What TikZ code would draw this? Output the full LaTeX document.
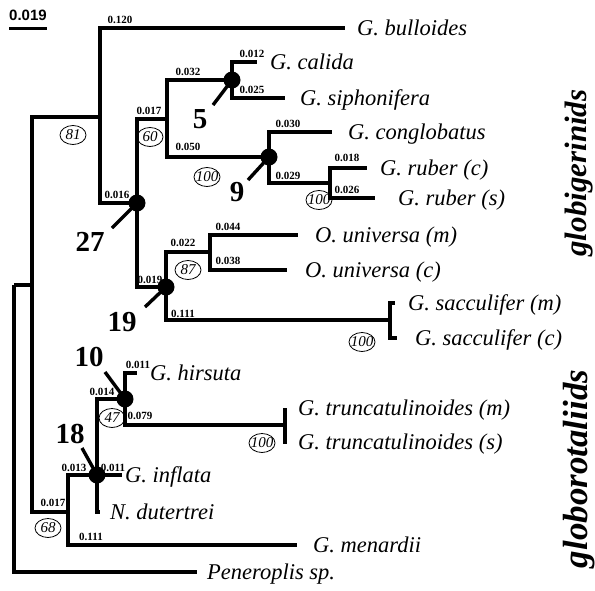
\documentclass[tikz,border=0pt]{standalone}
\usepackage{fontspec}
\setmainfont{Liberation Serif}
\setsansfont{Liberation Sans}
\usepackage{tikz}
\usetikzlibrary{positioning,shapes.geometric}

\tikzset{
  branch/.style={line width=3.4pt, line join=miter},
  leaf/.style={font=\fontsize{22.5}{22.5}\selectfont\itshape, anchor=west, inner sep=0pt, text height=14pt, text depth=0pt},
  blen/.style={font=\fontsize{11}{11}\selectfont\bfseries, inner sep=0pt},
  boot/.style={ellipse, draw, line width=0.8pt, inner sep=-3pt, minimum width=26pt, minimum height=19pt, font=\fontsize{15}{15}\selectfont\itshape},
  cladeno/.style={font=\fontsize{29}{29}\selectfont\bfseries, inner sep=0pt},
  nodedot/.style={circle, fill, inner sep=0pt, minimum size=17pt},
  cladename/.style={rotate=90, font=\fontsize{31}{31}\selectfont\bfseries\itshape, inner sep=0pt},
}

\begin{document}
\begin{tikzpicture}[x=1pt, y=-1pt]
    \useasboundingbox (0,0) rectangle (595,590);

    % Scale bar
    \node[font=\fontsize{15}{15}\selectfont\sffamily\bfseries, inner sep=0pt] (scale) at (28,15) {0.019};
    \coordinate (sbL) at (9,28);
    \coordinate (sbR) at (47,28);
    \draw[line width=3pt] (sbL) -- (sbR);

    % Internal nodes
    \coordinate (root) at (14,285);
    \coordinate (ingr) at (32,285);
    \coordinate (n81) at (100,117);
    \coordinate (n27) at (137,203);
    \coordinate (n60) at (167,119);
    \coordinate (n5) at (232,80);
    \coordinate (n9) at (269,157);
    \coordinate (nrub) at (330,183);
    \coordinate (n19) at (166,287);
    \coordinate (nuni) at (210,252);
    \coordinate (nsac) at (390,320);
    \coordinate (n68) at (68,512);
    \coordinate (n18) at (97,475);
    \coordinate (n10) at (125,399);
    \coordinate (ntru) at (285,425);

    % Tips
    \coordinate (bull) at (345,28);
    \coordinate (cali) at (257,62);
    \coordinate (siph) at (285,98);
    \coordinate (cong) at (332,132);
    \coordinate (rubc) at (367,168);
    \coordinate (rubs) at (375,198);
    \coordinate (unim) at (298,235);
    \coordinate (unic) at (287,270);
    \coordinate (sacm) at (395,303);
    \coordinate (sacc) at (397,338);
    \coordinate (hirs) at (137,373);
    \coordinate (trum) at (285,408);
    \coordinate (trus) at (287,442);
    \coordinate (infl) at (122,475);
    \coordinate (dute) at (100,512);
    \coordinate (mena) at (297,545);
    \coordinate (pene) at (197,572);

    % Branch lengths (drawn below the dots)
    \node[blen] (l120) at (120,20) {0.120};
    \node[blen] (l032) at (188,72) {0.032};
    \node[blen] (l012a) at (252,54) {0.012};
    \node[blen] (l025) at (252,90) {0.025};
    \node[blen] (l017a) at (149,111) {0.017};
    \node[blen] (l050) at (188,147) {0.050};
    \node[blen] (l016) at (117,195) {0.016};
    \node[blen] (l030) at (288,124) {0.030};
    \node[blen] (l029) at (288,176) {0.029};
    \node[blen] (l018) at (347,158) {0.018};
    \node[blen] (l026) at (347,190) {0.026};
    \node[blen] (l022) at (183,243) {0.022};
    \node[blen] (l044) at (228,227) {0.044};
    \node[blen] (l038) at (228,261) {0.038};
    \node[blen] (l019) at (150,280) {0.019};
    \node[blen] (l111a) at (183,314) {0.111};
    \node[blen] (l014) at (102,392) {0.014};
    \node[blen] (l011a) at (138,365) {0.011};
    \node[blen] (l079) at (140,416) {0.079};
    \node[blen] (l013) at (74,468) {0.013};
    \node[blen] (l011b) at (113,468) {0.011};
    \node[blen] (l017b) at (53,503) {0.017};
    \node[blen] (l111b) at (91,537) {0.111};

    % Tree
    \draw[branch] (root) |- (ingr) (root) |- (pene);
    \draw[branch] (ingr) |- (n81) (ingr) |- (n68);
    \draw[branch] (n81) |- (bull) (n81) |- (n27);
    \draw[branch] (n27) |- (n60) (n27) |- (n19);
    \draw[branch] (n60) |- (n5) (n60) |- (n9);
    \draw[branch] (n5) |- (cali) (n5) |- (siph);
    \draw[branch] (n9) |- (cong) (n9) |- (nrub);
    \draw[branch] (nrub) |- (rubc) (nrub) |- (rubs);
    \draw[branch] (n19) |- (nuni) (n19) |- (nsac);
    \draw[branch] (nuni) |- (unim) (nuni) |- (unic);
    \draw[branch] (nsac) |- (sacm) (nsac) |- (sacc);
    \draw[branch] (n68) |- (n18) (n68) |- (mena);
    \draw[branch] (n18) |- (n10) (n18) |- (infl) (n18) |- (dute);
    \draw[branch] (n10) |- (hirs) (n10) |- (ntru);
    \draw[branch] (ntru) |- (trum) (ntru) |- (trus);

    % Marked nodes and their numbers
    \node[nodedot] (d5) at (n5) {};
    \node[nodedot] (d9) at (n9) {};
    \node[nodedot] (d27) at (n27) {};
    \node[nodedot] (d19) at (n19) {};
    \node[nodedot] (d10) at (n10) {};
    \node[nodedot] (d18) at (n18) {};
    \node[cladeno] (c5) at (200,119) {5};
    \node[cladeno] (c9) at (237,192) {9};
    \node[cladeno] (c27) at (90,242) {27};
    \node[cladeno] (c19) at (122,322) {19};
    \node[cladeno] (c10) at (89,357) {10};
    \node[cladeno] (c18) at (70,434) {18};
    \coordinate (p5) at (213,105);
    \coordinate (p9) at (248,180);
    \coordinate (p27) at (112,228);
    \coordinate (p19) at (145,307);
    \coordinate (p10) at (105,372);
    \coordinate (p18) at (82,448);
    \draw[branch] (p5) -- (d5.center) (p9) -- (d9.center) (p27) -- (d27.center)
        (p19) -- (d19.center) (p10) -- (d10.center) (p18) -- (d18.center);

    % Bootstrap values
    \node[boot] (b81) at (73,135) {81};
    \node[boot] (b60) at (150,137) {60};
    \node[boot] (b100a) at (207,177) {100};
    \node[boot] (b100b) at (319,200) {100};
    \node[boot] (b87) at (188,270) {87};
    \node[boot] (b100c) at (362,342) {100};
    \node[boot] (b47) at (112,418) {47};
    \node[boot] (b100d) at (262,443) {100};
    \node[boot] (b68) at (48,528) {68};

    % Taxa
    \node[leaf, right=12pt of bull] (tbull) {G. bulloides};
    \node[leaf, right=13pt of cali] (tcali) {G. calida};
    \node[leaf, right=15pt of siph] (tsiph) {G. siphonifera};
    \node[leaf, right=16pt of cong] (tcong) {G. conglobatus};
    \node[leaf, right=13pt of rubc] (trubc) {G. ruber (c)};
    \node[leaf, right=23pt of rubs] (trubs) {G. ruber (s)};
    \node[leaf, right=17pt of unim] (tunim) {O. universa (m)};
    \node[leaf, right=18pt of unic] (tunic) {O. universa (c)};
    \node[leaf, right=13pt of sacm] (tsacm) {G. sacculifer (m)};
    \node[leaf, right=18pt of sacc] (tsacc) {G. sacculifer (c)};
    \node[leaf, right=13pt of hirs] (thirs) {G. hirsuta};
    \node[leaf, right=13pt of trum] (ttrum) {G. truncatulinoides (m)};
    \node[leaf, right=11pt of trus] (ttrus) {G. truncatulinoides (s)};
    \node[leaf, right=3pt of infl] (tinfl) {G. inflata};
    \node[leaf, right=10pt of dute] (tdute) {N. dutertrei};
    \node[leaf, right=16pt of mena] (tmena) {G. menardii};
    \node[leaf, right=10pt of pene] (tpene) {Peneroplis sp.};

    % Groups
    \node[cladename] (gglob) at (579,173) {globigerinids};
    \node[cladename, font=\fontsize{35}{35}\selectfont\bfseries\itshape] (grot) at (579,469) {globorotaliids};
\end{tikzpicture}
\end{document}
